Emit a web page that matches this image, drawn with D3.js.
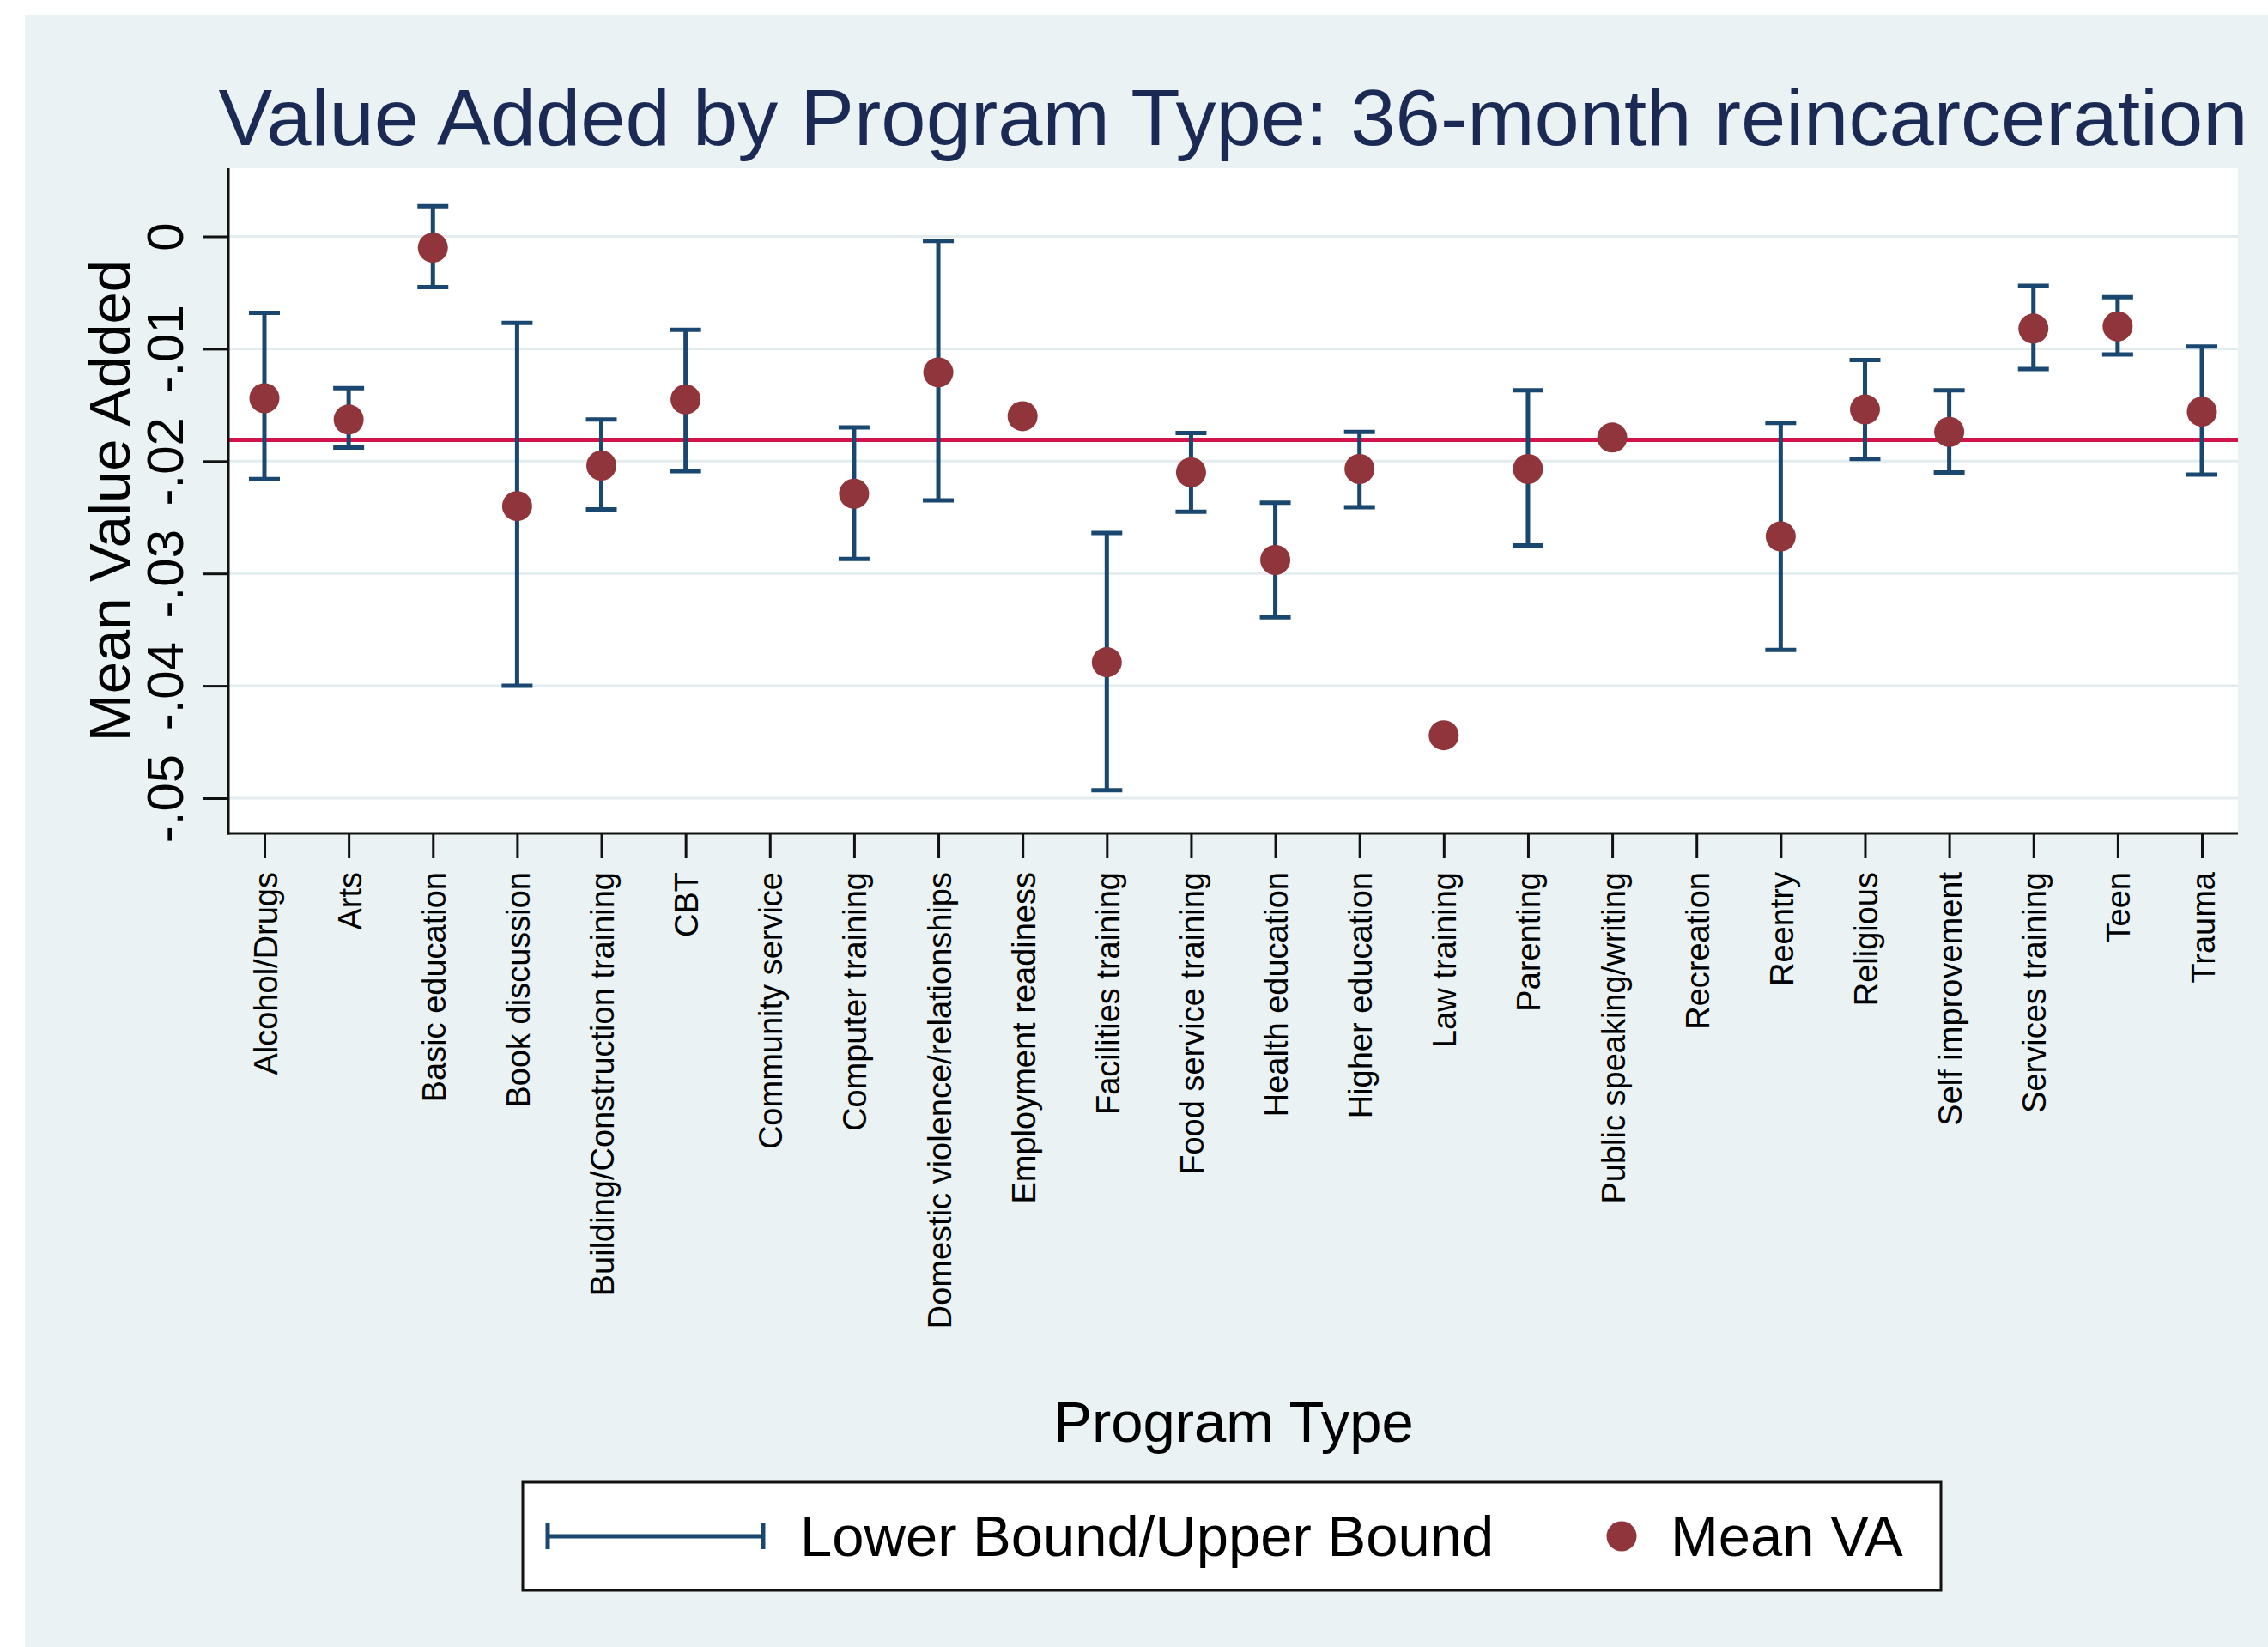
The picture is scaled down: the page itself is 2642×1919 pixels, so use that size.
<!DOCTYPE html>
<html>
<head>
<meta charset="utf-8">
<script src="https://cdn.jsdelivr.net/npm/d3@7"></script>
<style>
  html, body { margin: 0; padding: 0; background: #ffffff; }
  svg { display: block; }
  text { font-family: "Liberation Sans", Arial, Helvetica, sans-serif; }
</style>
</head>
<body>
<svg id="chart" width="2642" height="1919"></svg>
<script>
// ---------------- data ----------------
const categories = [
  "Alcohol/Drugs", "Arts", "Basic education", "Book discussion",
  "Building/Construction training", "CBT", "Community service",
  "Computer training", "Domestic violence/relationships",
  "Employment readiness", "Facilities training", "Food service training",
  "Health education", "Higher education", "Law training", "Parenting",
  "Public speaking/writing", "Recreation", "Reentry", "Religious",
  "Self improvement", "Services training", "Teen", "Trauma"
];
const meanVA = [
  -0.0144, -0.0163, -0.0010, -0.0240, -0.0204, -0.0145, null, -0.0229,
  -0.0121, -0.0160, -0.0379, -0.0210, -0.0288, -0.0207, -0.0444, -0.0207,
  -0.0179, null, -0.0267, -0.0154, -0.0174, -0.0082, -0.0080, -0.0156
];
const upperBound = [
  -0.0068, -0.0135, 0.0027, -0.0077, -0.0163, -0.0083, null, -0.0170,
  -0.0004, null, -0.0264, -0.0175, -0.0237, -0.0174, null, -0.0137,
  null, null, -0.0166, -0.0110, -0.0137, -0.0044, -0.0054, -0.0098
];
const lowerBound = [
  -0.0216, -0.0188, -0.0045, -0.0400, -0.0243, -0.0209, null, -0.0287,
  -0.0235, null, -0.0493, -0.0245, -0.0339, -0.0241, null, -0.0275,
  null, null, -0.0368, -0.0198, -0.0210, -0.0118, -0.0105, -0.0212
];
const yTicks = [0, -0.01, -0.02, -0.03, -0.04, -0.05];
const yTickLabels = ["0", "-.01", "-.02", "-.03", "-.04", "-.05"];
const referenceLine = -0.0181;
const titleText = "Value Added by Program Type: 36-month reincarceration";
const yTitle = "Mean Value Added";
const xTitle = "Program Type";
const legendLabels = ["Lower Bound/Upper Bound", "Mean VA"];

// ---------------- layout ----------------
const W = 2642, H = 1919;
const plot = { left: 266, right: 2607, top: 196, bottom: 971 };
const colBg = "#eaf2f3", colGrid = "#e3ecef", colNavy = "#1a476f",
      colMaroon = "#90353b", colRef = "#d2144a", colTitle = "#1b2a55";

const svg = d3.select("#chart");

// outer background
svg.append("rect").attr("x", 29).attr("y", 17)
  .attr("width", W - 29).attr("height", H - 17).attr("fill", colBg);
// plot region
svg.append("rect").attr("x", plot.left).attr("y", plot.top)
  .attr("width", plot.right - plot.left).attr("height", plot.bottom - plot.top)
  .attr("fill", "#ffffff");

const y = d3.scaleLinear().domain([-0.05, 0]).range([930, 275.5]);
const x = d3.scalePoint().domain(categories).range([308, 2565]);

// gridlines
svg.append("g").selectAll("line").data(yTicks).join("line")
  .attr("x1", plot.left).attr("x2", plot.right)
  .attr("y1", d => y(d)).attr("y2", d => y(d))
  .attr("stroke", colGrid).attr("stroke-width", 3);

// reference line
svg.append("line")
  .attr("x1", plot.left).attr("x2", plot.right)
  .attr("y1", y(referenceLine)).attr("y2", y(referenceLine))
  .attr("stroke", colRef).attr("stroke-width", 5);

// error bars
const rows = categories.map((c, i) => ({ c, m: meanVA[i], lo: lowerBound[i], hi: upperBound[i] }));
const bars = svg.append("g").attr("stroke", colNavy).attr("stroke-width", 5).attr("fill", "none");
const withBars = rows.filter(r => r.lo !== null && r.hi !== null);
bars.selectAll(".v").data(withBars).join("line")
  .attr("x1", d => x(d.c)).attr("x2", d => x(d.c))
  .attr("y1", d => y(d.hi)).attr("y2", d => y(d.lo));
bars.selectAll(".capHi").data(withBars).join("line")
  .attr("x1", d => x(d.c) - 18).attr("x2", d => x(d.c) + 18)
  .attr("y1", d => y(d.hi)).attr("y2", d => y(d.hi));
bars.selectAll(".capLo").data(withBars).join("line")
  .attr("x1", d => x(d.c) - 18).attr("x2", d => x(d.c) + 18)
  .attr("y1", d => y(d.lo)).attr("y2", d => y(d.lo));

// mean markers
svg.append("g").selectAll("circle").data(rows.filter(r => r.m !== null)).join("circle")
  .attr("cx", d => x(d.c)).attr("cy", d => y(d.m)).attr("r", 17.5)
  .attr("fill", colMaroon);

// axis lines
svg.append("line").attr("x1", plot.left).attr("x2", plot.left)
  .attr("y1", plot.top).attr("y2", plot.bottom + 1.5)
  .attr("stroke", "#111").attr("stroke-width", 3);
svg.append("line").attr("x1", plot.left - 1.5).attr("x2", plot.right)
  .attr("y1", plot.bottom).attr("y2", plot.bottom)
  .attr("stroke", "#111").attr("stroke-width", 3);

// y axis ticks + labels
const yAxis = d3.axisLeft(y).tickValues(yTicks).tickSize(29)
  .tickFormat((d, i) => yTickLabels[i]);
const gy = svg.append("g").attr("transform", `translate(${plot.left},0)`).call(yAxis);
gy.select(".domain").remove();
gy.selectAll(".tick line").attr("stroke", "#111").attr("stroke-width", 3);
gy.selectAll(".tick text")
  .attr("x", null).attr("dy", null)
  .attr("transform", "translate(-53,0) rotate(-90)")
  .attr("text-anchor", "middle")
  .attr("font-size", 60).attr("fill", "#000");

// x axis ticks + labels
const xAxis = d3.axisBottom(x).tickSize(29).tickSizeOuter(0);
const gx = svg.append("g").attr("transform", `translate(0,${plot.bottom})`).call(xAxis);
gx.select(".domain").remove();
gx.selectAll(".tick line").attr("stroke", "#111").attr("stroke-width", 3);
gx.selectAll(".tick text")
  .attr("y", null).attr("dy", null)
  .attr("transform", "translate(14,45) rotate(-90)")
  .attr("text-anchor", "end")
  .attr("font-size", 38).attr("fill", "#000");

// titles
svg.append("text").attr("x", (plot.left + plot.right) / 2).attr("y", 169)
  .attr("text-anchor", "middle").attr("font-size", 93).attr("fill", colTitle)
  .attr("textLength", 2364).attr("lengthAdjust", "spacingAndGlyphs")
  .text(titleText);
svg.append("text").attr("transform", `translate(151,${(plot.top + plot.bottom) / 2}) rotate(-90)`)
  .attr("text-anchor", "middle").attr("font-size", 67).attr("fill", "#000")
  .text(yTitle);
svg.append("text").attr("x", 1437).attr("y", 1680)
  .attr("text-anchor", "middle").attr("font-size", 67).attr("fill", "#000")
  .text(xTitle);

// legend
const lg = svg.append("g");
lg.append("rect").attr("x", 609).attr("y", 1727).attr("width", 1652).attr("height", 126)
  .attr("fill", "#ffffff").attr("stroke", "#111").attr("stroke-width", 3);
const ly = 1790;
lg.append("line").attr("x1", 638).attr("x2", 889).attr("y1", ly).attr("y2", ly)
  .attr("stroke", colNavy).attr("stroke-width", 5);
[638, 889].forEach(cx => lg.append("line").attr("x1", cx).attr("x2", cx)
  .attr("y1", ly - 15).attr("y2", ly + 15).attr("stroke", colNavy).attr("stroke-width", 5));
lg.append("text").attr("x", 932).attr("y", 1813).attr("font-size", 67).attr("fill", "#000")
  .text(legendLabels[0]);
lg.append("circle").attr("cx", 1889).attr("cy", ly).attr("r", 17.5).attr("fill", colMaroon);
lg.append("text").attr("x", 1946).attr("y", 1813).attr("font-size", 67).attr("fill", "#000")
  .text(legendLabels[1]);
</script>
</body>
</html>
